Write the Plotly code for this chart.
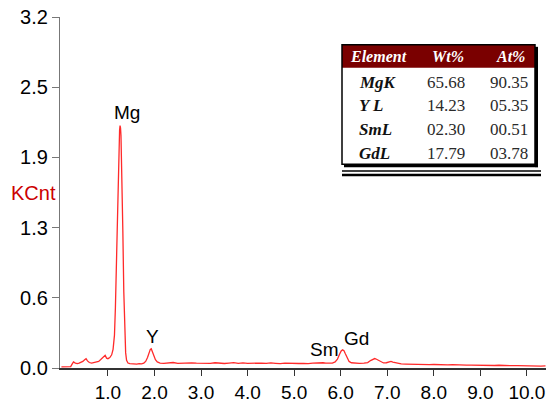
import plotly.graph_objects as go

# ---- data ----
energy_kev = [
    0.00, 0.10, 0.20, 0.23, 0.26, 0.30, 0.34, 0.38, 0.42, 0.46,
    0.50, 0.53, 0.56, 0.60, 0.65, 0.70, 0.75, 0.80, 0.84, 0.88,
    0.91, 0.94, 0.97, 1.00, 1.04, 1.08, 1.11, 1.14, 1.16, 1.18,
    1.20, 1.22, 1.24, 1.25, 1.26, 1.27, 1.28, 1.30, 1.32, 1.34,
    1.36, 1.38, 1.40, 1.43, 1.47, 1.52, 1.57, 1.62, 1.67, 1.72,
    1.77, 1.81, 1.85, 1.88, 1.91, 1.93, 1.95, 1.98, 2.02, 2.06,
    2.12, 2.20, 2.30, 2.40, 2.50, 2.60, 2.70, 2.80, 2.90, 3.00,
    3.10, 3.20, 3.30, 3.40, 3.50, 3.60, 3.70, 3.80, 3.90, 4.00,
    4.10, 4.20, 4.30, 4.40, 4.50, 4.60, 4.70, 4.80, 4.90, 5.00,
    5.10, 5.20, 5.30, 5.40, 5.50, 5.56, 5.62, 5.68, 5.75, 5.82,
    5.88, 5.93, 5.97, 6.01, 6.04, 6.07, 6.10, 6.14, 6.18, 6.23,
    6.30, 6.40, 6.50, 6.58, 6.64, 6.69, 6.73, 6.77, 6.81, 6.86,
    6.92, 6.98, 7.03, 7.08, 7.12, 7.17, 7.23, 7.30, 7.40, 7.50,
    7.60, 7.70, 7.80, 7.90, 8.00, 8.10, 8.20, 8.30, 8.40, 8.50,
    8.60, 8.70, 8.80, 8.90, 9.00, 9.10, 9.20, 9.30, 9.40, 9.50,
    9.60, 9.70, 9.80, 9.90, 10.00, 10.10, 10.20, 10.30, 10.40,
]
kcnt = [
    0.010, 0.010, 0.012, 0.035, 0.055, 0.045, 0.040, 0.045, 0.050, 0.060,
    0.075, 0.085, 0.065, 0.050, 0.045, 0.050, 0.055, 0.060, 0.075, 0.095,
    0.110, 0.115, 0.090, 0.085, 0.095, 0.120, 0.170, 0.300, 0.550, 0.950,
    1.400, 1.800, 2.080, 2.170, 2.210, 2.190, 2.120, 1.800, 1.250, 0.700,
    0.330, 0.140, 0.070, 0.045, 0.040, 0.038, 0.042, 0.036, 0.040, 0.038,
    0.045, 0.060, 0.095, 0.140, 0.170, 0.175, 0.155, 0.115, 0.075, 0.055,
    0.045, 0.042, 0.046, 0.050, 0.043, 0.045, 0.041, 0.047, 0.044, 0.042,
    0.046, 0.043, 0.048, 0.044, 0.041, 0.045, 0.049, 0.043, 0.046, 0.042,
    0.044, 0.041, 0.045, 0.042, 0.046, 0.043, 0.040, 0.044, 0.042, 0.045,
    0.041, 0.043, 0.040, 0.044, 0.046, 0.052, 0.048, 0.044, 0.042, 0.045,
    0.055, 0.080, 0.120, 0.155, 0.165, 0.158, 0.130, 0.090, 0.060, 0.048,
    0.045, 0.042, 0.044, 0.050, 0.068, 0.082, 0.086, 0.080, 0.070, 0.055,
    0.046, 0.048, 0.055, 0.060, 0.054, 0.050, 0.042, 0.038, 0.036, 0.034,
    0.033, 0.035, 0.031, 0.030, 0.032, 0.029, 0.030, 0.028, 0.030, 0.027,
    0.028, 0.026, 0.027, 0.025, 0.027, 0.024, 0.025, 0.023, 0.025, 0.022,
    0.023, 0.021, 0.022, 0.020, 0.021, 0.019, 0.020, 0.018, 0.019,
]

x_tick_vals = [1, 2, 3, 4, 5, 6, 7, 8, 9, 10]
x_tick_text = ["1.0", "2.0", "3.0", "4.0", "5.0", "6.0", "7.0", "8.0", "9.0", "10.0"]
y_tick_vals = [0.0, 0.64, 1.28, 1.92, 2.56, 3.2]
y_tick_text = ["0.0", "0.6", "1.3", "1.9", "2.5", "3.2"]

peak_labels = ["Mg", "Y", "Sm", "Gd"]
peak_label_x = [1.41, 1.95, 5.65, 6.33]
peak_label_y = [2.33, 0.29, 0.165, 0.27]

table_header = ["Element", "Wt%", "At%"]
table_elements = ["MgK", "Y L", "SmL", "GdL"]
table_wt = ["65.68", "14.23", "02.30", "17.79"]
table_at = ["90.35", "05.35", "00.51", "03.78"]

# ---- geometry helpers (pixel -> paper) ----
W, H = 546, 403
L, R, T, B = 60, 0, 17, 33
PW, PH = W - L - R, H - T - B


def xp(px):
    return (px - L) / PW


def yp(py):
    return (H - B - py) / PH


fig = go.Figure()
fig.add_trace(go.Scatter(
    x=energy_kev, y=kcnt, mode="lines",
    line=dict(color="#ff2a2a", width=1.3),
    hoverinfo="skip", showlegend=False,
))

font_sans = "Liberation Sans, Arial, sans-serif"
font_serif = "Liberation Serif, Times New Roman, serif"

fig.update_layout(
    width=W, height=H,
    margin=dict(l=L, r=R, t=T, b=B, pad=0),
    paper_bgcolor="white", plot_bgcolor="white",
    showlegend=False,
    xaxis=dict(
        range=[-0.03, 10.41], showgrid=False, zeroline=False,
        showline=True, linecolor="#333333", linewidth=1.5,
        ticks="outside", ticklen=6, tickwidth=1, tickcolor="#333333",
        tickvals=x_tick_vals, ticktext=x_tick_text,
        tickfont=dict(family=font_sans, size=19, color="black"),
    ),
    yaxis=dict(
        range=[0, 3.2], showgrid=False, zeroline=False,
        showline=True, linecolor="#777777", linewidth=1.2,
        ticks="outside", ticklen=7, tickwidth=1, tickcolor="#777777",
        tickvals=y_tick_vals, ticktext=y_tick_text,
        tickfont=dict(family=font_sans, size=20, color="black"),
    ),
)

annotations = []
for lab, lx, ly in zip(peak_labels, peak_label_x, peak_label_y):
    annotations.append(dict(
        x=lx, y=ly, xref="x", yref="y", text=lab, showarrow=False,
        font=dict(family=font_sans, size=19, color="black"),
        xanchor="center", yanchor="middle",
    ))

annotations.append(dict(
    x=xp(33), y=yp(194), xref="paper", yref="paper", text="KCnt",
    showarrow=False, font=dict(family=font_sans, size=20, color="#cc0000"),
    xanchor="center", yanchor="middle",
))

# ---- table ----
shapes = []
tx0, tx1, ty0, ty1 = 342, 535, 45, 165
shapes.append(dict(type="rect", xref="paper", yref="paper",
                   x0=xp(tx0), x1=xp(tx1), y0=yp(ty0), y1=yp(68),
                   fillcolor="#7a0000", line=dict(width=0)))
shapes.append(dict(type="rect", xref="paper", yref="paper",
                   x0=xp(tx0), x1=xp(tx1), y0=yp(ty0), y1=yp(ty1),
                   fillcolor="rgba(0,0,0,0)", line=dict(color="black", width=1.5)))
shapes.append(dict(type="line", xref="paper", yref="paper",
                   x0=xp(tx1 + 1.5), x1=xp(tx1 + 1.5), y0=yp(ty0 + 2), y1=yp(ty1 + 3),
                   line=dict(color="black", width=3)))
shapes.append(dict(type="line", xref="paper", yref="paper",
                   x0=xp(tx0 + 2), x1=xp(tx1 + 3), y0=yp(ty1 + 1.5), y1=yp(ty1 + 1.5),
                   line=dict(color="black", width=3)))
shapes.append(dict(type="line", xref="paper", yref="paper",
                   x0=xp(tx0), x1=xp(541), y0=yp(172), y1=yp(172),
                   line=dict(color="black", width=1.5)))
shapes.append(dict(type="line", xref="paper", yref="paper",
                   x0=xp(tx0), x1=xp(541), y0=yp(176), y1=yp(176),
                   line=dict(color="black", width=2.5)))

header_x = [378, 448, 510]
for txt, hx in zip(table_header, header_x):
    annotations.append(dict(
        x=xp(hx), y=yp(57), xref="paper", yref="paper",
        text="<b><i>" + txt + "</i></b>", showarrow=False,
        font=dict(family=font_serif, size=16, color="white"),
        xanchor="center", yanchor="middle",
    ))

row_y = [83, 106, 130, 154]
for el, wt, at, ry in zip(table_elements, table_wt, table_at, row_y):
    annotations.append(dict(
        x=xp(357), y=yp(ry), xref="paper", yref="paper",
        text="<b><i>" + el + "</i></b>", showarrow=False,
        font=dict(family=font_serif, size=17, color="#111111"),
        xanchor="left", yanchor="middle",
    ))
    annotations.append(dict(
        x=xp(446), y=yp(ry), xref="paper", yref="paper",
        text=wt, showarrow=False,
        font=dict(family=font_serif, size=17, color="#2a2a2a"),
        xanchor="center", yanchor="middle",
    ))
    annotations.append(dict(
        x=xp(509), y=yp(ry), xref="paper", yref="paper",
        text=at, showarrow=False,
        font=dict(family=font_serif, size=17, color="#2a2a2a"),
        xanchor="center", yanchor="middle",
    ))

fig.update_layout(annotations=annotations, shapes=shapes)
fig.write_html("out.html")
